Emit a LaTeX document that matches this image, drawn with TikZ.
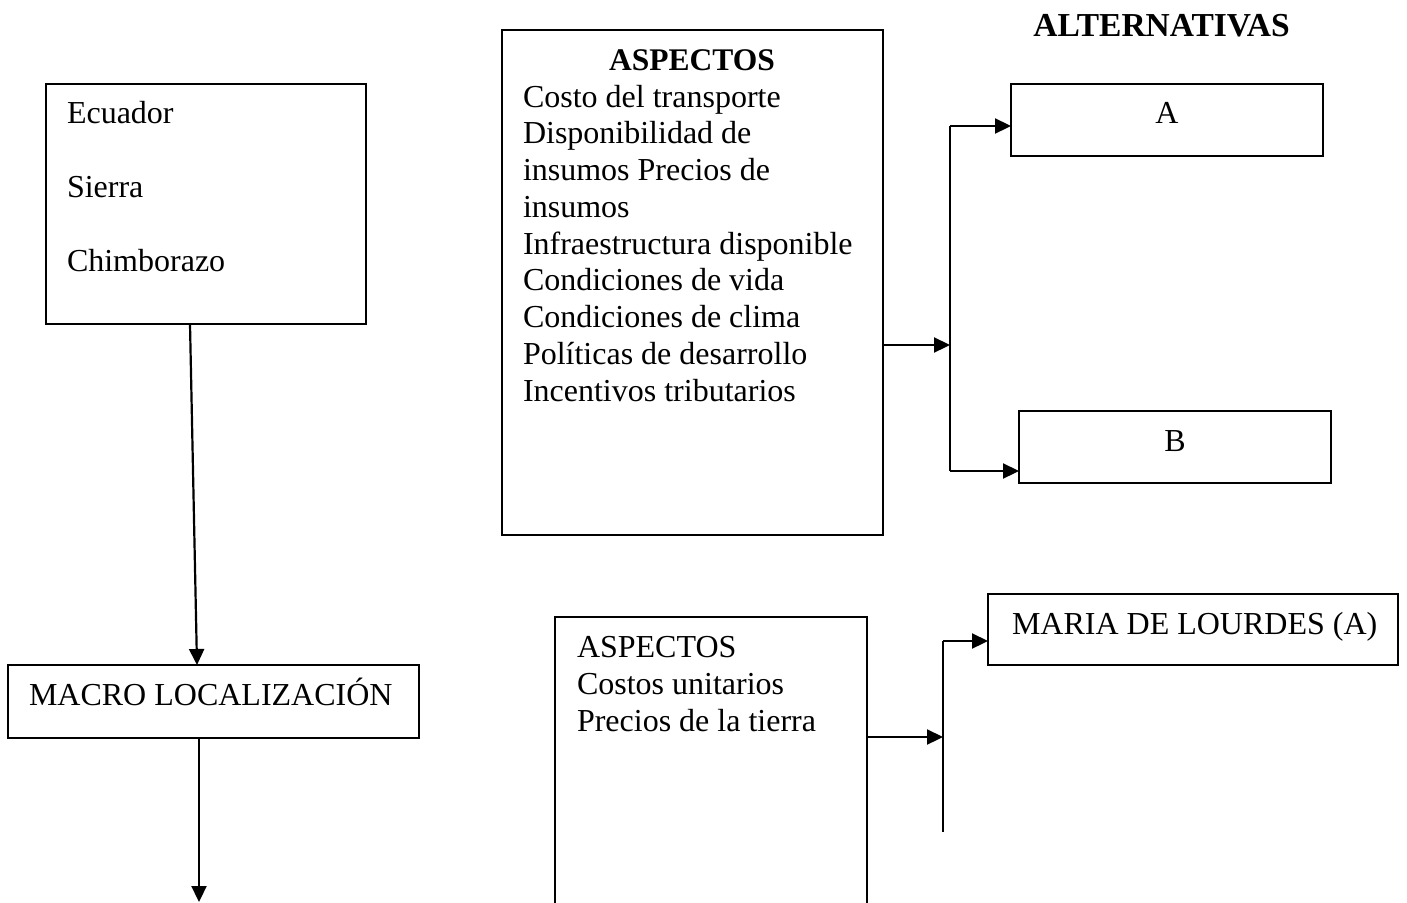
\documentclass[tikz,border=0pt]{standalone}
\usepackage{fontspec}
\setmainfont{Liberation Serif}
\usetikzlibrary{arrows.meta,calc}
\begin{document}
\begin{tikzpicture}[x=1pt,y=-1pt,
  font=\fontsize{32}{36.8}\selectfont,
  box/.style={draw,line width=2pt,inner sep=0pt,outer sep=0pt},
  txt/.style={inner sep=0pt,outer sep=0pt},
  conn/.style={line width=2.2pt},
  arr/.style={line width=2.2pt,-{Triangle[length=16pt,width=15pt]}}]
\useasboundingbox (0,0) rectangle (1407,902);
\clip (0,0) rectangle (1407,902);
% boxes
\node[box,minimum width=320pt,minimum height=240pt] (ecu) at (206,204) {};
\node[box,minimum width=411pt,minimum height=73pt] (macro) at (213.5,701.5) {};
\node[box,minimum width=381pt,minimum height=505pt] (asp1) at (692.5,282.5) {};
\node[box,minimum width=312pt,minimum height=72pt] (A) at (1167,120) {};
\node[box,minimum width=312pt,minimum height=72pt] (B) at (1175,447) {};
\node[box,minimum width=312pt,minimum height=343pt] (asp2) at (711,788.5) {};
\node[box,minimum width=410pt,minimum height=71pt] (maria) at (1193,629.5) {};
% texts
\node[txt,anchor=base west] (t1) at (67,123) {Ecuador};
\node[txt,anchor=base west] (t2) at (67,197) {Sierra};
\node[txt,anchor=base west] (t3) at (67,271) {Chimborazo};
\node[txt,anchor=base west] (tmacro) at (29,705) {MACRO LOCALIZACIÓN};
\node[txt,anchor=base,font=\fontsize{33.5}{36.8}\selectfont\bfseries] (talt) at (1161.5,36) {ALTERNATIVAS};
\node[txt,anchor=base,font=\fontsize{31.5}{36.8}\selectfont\bfseries] (th1) at (692,70) {ASPECTOS};
\foreach \t [count=\i] in {Costo del transporte,Disponibilidad de,insumos Precios de,insumos,Infraestructura disponible,Condiciones de vida,Condiciones de clima,Políticas de desarrollo,Incentivos tributarios}
  \node[txt,anchor=base west] (l\i) at (523,{107+36.75*(\i-1)}) {\t};
\node[txt,anchor=base] (tA) at (1167,123) {A};
\node[txt,anchor=base] (tB) at (1175,451) {B};
\node[txt,anchor=base west] (m1) at (577,657) {ASPECTOS};
\node[txt,anchor=base west] (m2) at (577,694) {Costos unitarios};
\node[txt,anchor=base west] (m3) at (577,731) {Precios de la tierra};
\node[txt,anchor=base west] (tmaria) at (1012,634) {MARIA DE LOURDES (A)};
% connectors
\draw[arr] ($(ecu.south west)+(144,0)$) -- ($(macro.north west)+(189,0)$);
\coordinate (mend) at (199,902);
\draw[arr] (macro.south -| mend) -- (mend);
\coordinate (j1) at (950,345);
\coordinate (ja) at (950,126);
\coordinate (jb) at (950,471);
\draw[arr] (asp1.east |- j1) -- (j1);
\draw[conn] (ja) -- (jb);
\draw[arr] (ja) -- (A.west |- ja);
\draw[arr] (jb) -- (B.west |- jb);
\coordinate (j2) at (943,737);
\coordinate (jm) at (943,641);
\coordinate (jend) at (943,832);
\draw[arr] (asp2.east |- j2) -- (j2);
\draw[conn] (jm) -- (jend);
\draw[arr] (jm) -- (maria.west |- jm);
\end{tikzpicture}
\end{document}
